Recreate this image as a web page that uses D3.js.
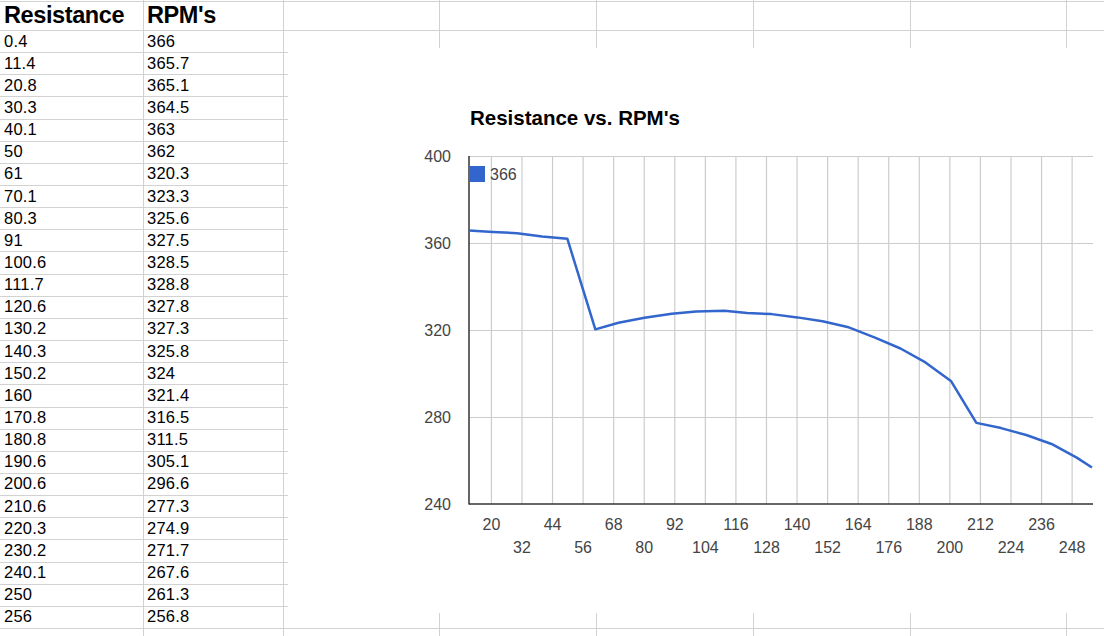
<!DOCTYPE html>
<html>
<head>
<meta charset="utf-8">
<script src="https://cdn.jsdelivr.net/npm/d3@7"></script>
<style>
  html, body { margin: 0; padding: 0; background: #fff; }
  svg { display: block; font-family: "Liberation Sans", Arial, Helvetica, sans-serif; }
</style>
</head>
<body>
<svg id="c" width="1104" height="636"></svg>
<script>
// ---- data (as shown in the sheet) ----
const headers = ["Resistance", "RPM's"];
const resistance = [0.4, 11.4, 20.8, 30.3, 40.1, 50, 61, 70.1, 80.3, 91, 100.6, 111.7, 120.6, 130.2, 140.3, 150.2, 160, 170.8, 180.8, 190.6, 200.6, 210.6, 220.3, 230.2, 240.1, 250, 256];
const rpmText = ["366", "365.7", "365.1", "364.5", "363", "362", "320.3", "323.3", "325.6", "327.5", "328.5", "328.8", "327.8", "327.3", "325.8", "324", "321.4", "316.5", "311.5", "305.1", "296.6", "277.3", "274.9", "271.7", "267.6", "261.3", "256.8"];
const resText = ["0.4", "11.4", "20.8", "30.3", "40.1", "50", "61", "70.1", "80.3", "91", "100.6", "111.7", "120.6", "130.2", "140.3", "150.2", "160", "170.8", "180.8", "190.6", "200.6", "210.6", "220.3", "230.2", "240.1", "250", "256"];
const rpm = rpmText.map(Number);
const chartTitle = "Resistance vs. RPM's";
const xTicks = [20, 32, 44, 56, 68, 80, 92, 104, 116, 128, 140, 152, 164, 176, 188, 200, 212, 224, 236, 248];
const yTicks = [240, 280, 320, 360, 400];
// The chart used the first data row as its header, so it plots rows 2..27
const seriesName = rpmText[0];
const points = resistance.slice(1).map((r, i) => ({ x: r, y: rpm[i + 1] }));

// ---- layout ----
const svg = d3.select("#c");
const W = 1104, H = 636;
const headerH = 30, rowH = (628 - 30) / 27;
const colEdges = [0, 143, 283, 439, 596, 753, 910, 1066];
const gridColor = "#d2d2d2";
const box = { x0: 288, y0: 48, x1: 1104, y1: 613 };

svg.append("rect").attr("width", W).attr("height", H).attr("fill", "#fff");

const sheet = svg.append("g");
// row lines
const rowYs = [0.5, headerH];
for (let i = 1; i <= 27; i++) rowYs.push(headerH + i * rowH);
sheet.selectAll("line.row").data(rowYs).join("line")
  .attr("x1", 0).attr("x2", W)
  .attr("y1", d => Math.round(d) + 0.5).attr("y2", d => Math.round(d) + 0.5)
  .attr("stroke", gridColor).attr("stroke-width", 1);
// column lines
sheet.selectAll("line.col").data(colEdges.slice(1)).join("line")
  .attr("x1", d => d + 0.5).attr("x2", d => d + 0.5)
  .attr("y1", 0).attr("y2", H)
  .attr("stroke", gridColor).attr("stroke-width", 1);

// header text
sheet.selectAll("text.h").data(headers).join("text")
  .attr("x", (d, i) => colEdges[i] + 4)
  .attr("y", 22.5)
  .attr("font-size", 23.5).attr("font-weight", "bold").attr("fill", "#000")
  .attr("letter-spacing", -0.4)
  .text(d => d);

// cell text
const cells = [];
resText.forEach((t, i) => { cells.push({ c: 0, r: i, t }); cells.push({ c: 1, r: i, t: rpmText[i] }); });
sheet.selectAll("text.cell").data(cells).join("text")
  .attr("x", d => colEdges[d.c] + 4)
  .attr("y", d => headerH + d.r * rowH + 16.5)
  .attr("font-size", 16.5).attr("fill", "#000")
  .attr("letter-spacing", 0.2)
  .text(d => d.t);

// ---- chart ----
const chart = svg.append("g");
chart.append("rect")
  .attr("x", box.x0).attr("y", box.y0)
  .attr("width", box.x1 - box.x0).attr("height", box.y1 - box.y0)
  .attr("fill", "#fff");

const x = d3.scaleLinear().domain([11.4, 256]).range([469, 1092]);
const y = d3.scaleLinear().domain([240, 400]).range([504, 156]);

chart.append("text")
  .attr("x", 470).attr("y", 125)
  .attr("font-size", 20.5).attr("font-weight", "bold").attr("fill", "#000")
  .text(chartTitle);

// vertical gridlines
chart.append("g").attr("transform", `translate(0,${y(240)})`)
  .call(d3.axisBottom(x).tickValues(xTicks).tickSize(-(y(240) - y(400))).tickFormat(""))
  .call(g => g.select(".domain").remove())
  .call(g => g.selectAll("line").attr("stroke", "#cccccc").attr("stroke-width", 1.2));

// horizontal gridlines
chart.append("g").attr("transform", `translate(${x.range()[0]},0)`)
  .call(d3.axisLeft(y).tickValues(yTicks.slice(1)).tickSize(-(1093 - x.range()[0])).tickFormat(""))
  .call(g => g.select(".domain").remove())
  .call(g => g.selectAll("line").attr("stroke", "#cccccc").attr("stroke-width", 1.2));

// y labels
chart.append("g").attr("transform", `translate(451,0)`)
  .call(d3.axisLeft(y).tickValues(yTicks).tickSize(0).tickPadding(0))
  .call(g => g.select(".domain").remove())
  .call(g => g.selectAll("text")
    .attr("font-family", "Liberation Sans, Arial, sans-serif")
    .attr("font-size", 16).attr("fill", "#444"));

// x labels (two staggered rows)
chart.append("g").attr("transform", `translate(0,${y(240)})`)
  .call(d3.axisBottom(x).tickValues(xTicks).tickSize(0).tickPadding(0))
  .call(g => g.select(".domain").remove())
  .call(g => g.selectAll("text")
    .attr("font-family", "Liberation Sans, Arial, sans-serif")
    .attr("font-size", 16).attr("fill", "#444")
    .attr("dy", null)
    .attr("y", (d, i) => (i % 2 === 0 ? 25.5 : 48.5)));

// axes lines
chart.append("line")
  .attr("x1", x.range()[0]).attr("x2", x.range()[0])
  .attr("y1", y(400)).attr("y2", y(240) + 0.5)
  .attr("stroke", "#333").attr("stroke-width", 1.5);
chart.append("line")
  .attr("x1", x.range()[0]).attr("x2", 1093)
  .attr("y1", y(240)).attr("y2", y(240))
  .attr("stroke", "#333").attr("stroke-width", 1.5);

// line
chart.append("path")
  .datum(points)
  .attr("fill", "none")
  .attr("stroke", "#3366cc")
  .attr("stroke-width", 2.5)
  .attr("stroke-linejoin", "round")
  .attr("d", d3.line().x(d => x(d.x)).y(d => y(d.y)));

// legend
chart.append("rect")
  .attr("x", 470).attr("y", 166).attr("width", 15).attr("height", 16)
  .attr("fill", "#3366cc");
chart.append("text")
  .attr("x", 490).attr("y", 180)
  .attr("font-size", 16).attr("fill", "#444")
  .text(seriesName);
</script>
</body>
</html>
